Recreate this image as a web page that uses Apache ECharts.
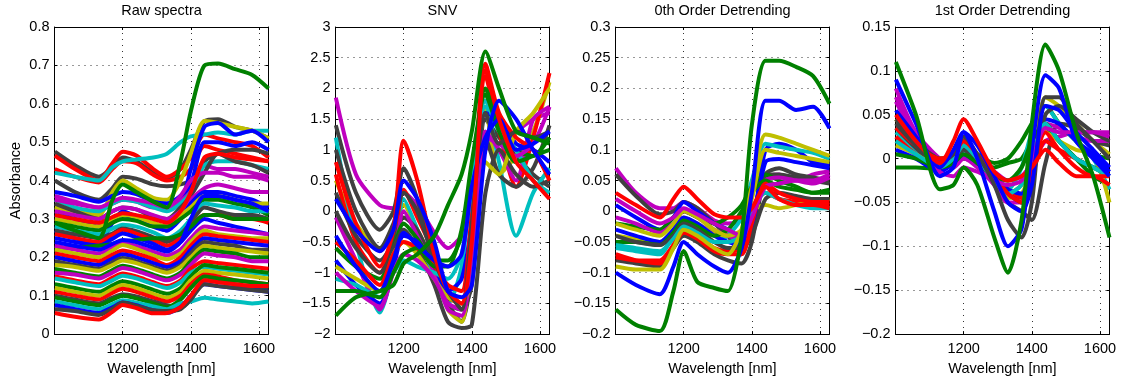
<!DOCTYPE html>
<html><head><meta charset="utf-8">
<script src="https://cdn.jsdelivr.net/npm/echarts@6/dist/echarts.min.js"></script>
<style>html,body{margin:0;padding:0;background:#fff}#c{width:1132px;height:381px}</style>
</head><body><div id="c"></div>
<script>
// ---- data ----
const wavelengths = [1001, 1060, 1130, 1170, 1200, 1240, 1290, 1330, 1370, 1400, 1440, 1480, 1530, 1580, 1628];

const panelTitles = ['Raw spectra', 'SNV', '0th Order Detrending', '1st Order Detrending'];
const yLabel = 'Absorbance';
const xLabel = 'Wavelength [nm]';

const yMinMax = [[0, 0.8, 0.1], [-2, 3, 0.5], [-0.2, 0.3, 0.05], [-0.2, 0.15, 0.05]];

const rawColorKeys = ['k','r','r','c','k','y','b','m','b','c','k','m','b','y','g','c','k','r','b','g','m','y','r','b','k','y','g','m','r','c','g','y','r','k','g','c','b','k','r','m','r','b','g'];
const rawValues = [
  [0.475,0.44,0.41,0.435,0.46,0.45,0.42,0.405,0.43,0.48,0.555,0.56,0.54,0.53,0.51],
  [0.465,0.43,0.40,0.445,0.475,0.465,0.43,0.41,0.43,0.46,0.52,0.51,0.50,0.49,0.46],
  [0.43,0.41,0.395,0.43,0.45,0.445,0.415,0.40,0.41,0.43,0.49,0.48,0.47,0.46,0.45],
  [0.42,0.41,0.40,0.435,0.45,0.455,0.46,0.47,0.50,0.515,0.52,0.525,0.52,0.53,0.53],
  [0.40,0.37,0.35,0.38,0.41,0.405,0.39,0.385,0.39,0.40,0.45,0.47,0.48,0.48,0.47],
  [0.33,0.32,0.31,0.37,0.40,0.38,0.355,0.35,0.40,0.47,0.555,0.55,0.54,0.53,0.51],
  [0.27,0.25,0.235,0.29,0.32,0.305,0.28,0.27,0.33,0.43,0.54,0.55,0.52,0.53,0.50],
  [0.36,0.345,0.33,0.34,0.35,0.345,0.33,0.33,0.35,0.38,0.44,0.43,0.43,0.42,0.41],
  [0.37,0.36,0.345,0.36,0.37,0.365,0.345,0.34,0.36,0.39,0.50,0.50,0.49,0.50,0.48],
  [0.35,0.33,0.32,0.34,0.35,0.345,0.33,0.32,0.34,0.37,0.44,0.45,0.45,0.44,0.43],
  [0.34,0.32,0.30,0.32,0.33,0.325,0.305,0.30,0.33,0.36,0.42,0.47,0.45,0.44,0.42],
  [0.32,0.31,0.30,0.32,0.33,0.325,0.31,0.30,0.32,0.35,0.38,0.39,0.38,0.37,0.37],
  [0.31,0.30,0.28,0.30,0.31,0.30,0.285,0.27,0.30,0.34,0.37,0.37,0.36,0.35,0.33],
  [0.30,0.29,0.28,0.30,0.31,0.305,0.29,0.28,0.31,0.33,0.36,0.36,0.35,0.34,0.34],
  [0.29,0.28,0.27,0.29,0.30,0.295,0.28,0.28,0.30,0.32,0.35,0.35,0.34,0.33,0.31],
  [0.28,0.27,0.26,0.275,0.285,0.28,0.265,0.25,0.27,0.30,0.34,0.335,0.33,0.32,0.32],
  [0.27,0.26,0.25,0.262,0.275,0.268,0.252,0.24,0.26,0.29,0.33,0.32,0.31,0.31,0.30],
  [0.26,0.25,0.24,0.258,0.272,0.262,0.245,0.23,0.25,0.28,0.31,0.31,0.30,0.30,0.29],
  [0.25,0.24,0.23,0.248,0.262,0.252,0.235,0.22,0.24,0.27,0.30,0.29,0.28,0.27,0.26],
  [0.22,0.225,0.23,0.235,0.24,0.245,0.25,0.25,0.26,0.28,0.31,0.31,0.30,0.30,0.30],
  [0.23,0.22,0.21,0.226,0.238,0.23,0.215,0.205,0.22,0.25,0.28,0.275,0.27,0.265,0.26],
  [0.22,0.21,0.20,0.218,0.232,0.222,0.205,0.195,0.21,0.24,0.27,0.26,0.255,0.25,0.25],
  [0.21,0.20,0.19,0.207,0.218,0.21,0.195,0.18,0.20,0.23,0.26,0.255,0.25,0.245,0.24],
  [0.20,0.19,0.18,0.197,0.208,0.20,0.185,0.175,0.19,0.22,0.25,0.245,0.24,0.235,0.23],
  [0.19,0.18,0.17,0.187,0.198,0.19,0.175,0.165,0.18,0.21,0.24,0.235,0.23,0.22,0.22],
  [0.18,0.175,0.165,0.18,0.192,0.185,0.17,0.16,0.175,0.20,0.23,0.225,0.22,0.215,0.21],
  [0.17,0.16,0.15,0.167,0.178,0.17,0.155,0.145,0.16,0.19,0.22,0.215,0.21,0.20,0.20],
  [0.16,0.155,0.145,0.16,0.172,0.165,0.15,0.14,0.155,0.18,0.21,0.205,0.20,0.19,0.19],
  [0.15,0.14,0.13,0.147,0.158,0.15,0.135,0.125,0.14,0.17,0.19,0.185,0.18,0.175,0.17],
  [0.145,0.135,0.125,0.14,0.152,0.145,0.13,0.12,0.135,0.16,0.175,0.17,0.165,0.16,0.155],
  [0.13,0.12,0.11,0.127,0.138,0.13,0.115,0.105,0.12,0.15,0.18,0.175,0.17,0.165,0.16],
  [0.12,0.11,0.10,0.117,0.128,0.12,0.105,0.095,0.11,0.14,0.165,0.16,0.155,0.15,0.145],
  [0.11,0.10,0.09,0.107,0.118,0.11,0.095,0.085,0.10,0.13,0.155,0.15,0.14,0.135,0.13],
  [0.10,0.09,0.08,0.095,0.104,0.098,0.085,0.075,0.07,0.09,0.14,0.14,0.13,0.12,0.12],
  [0.095,0.085,0.075,0.09,0.10,0.093,0.08,0.07,0.09,0.12,0.15,0.145,0.14,0.135,0.13],
  [0.085,0.075,0.065,0.078,0.088,0.082,0.072,0.065,0.08,0.085,0.095,0.09,0.085,0.08,0.085],
  [0.075,0.065,0.055,0.07,0.082,0.075,0.062,0.055,0.07,0.10,0.13,0.125,0.12,0.115,0.11],
  [0.065,0.06,0.05,0.066,0.082,0.074,0.062,0.06,0.065,0.09,0.13,0.125,0.12,0.115,0.11],
  [0.055,0.045,0.038,0.058,0.076,0.068,0.054,0.055,0.07,0.10,0.14,0.135,0.13,0.125,0.125],
  [0.35,0.34,0.33,0.345,0.355,0.35,0.34,0.33,0.36,0.40,0.42,0.42,0.41,0.41,0.40],
  [0.31,0.30,0.29,0.305,0.315,0.31,0.30,0.29,0.32,0.37,0.46,0.47,0.46,0.455,0.45],
  [0.24,0.23,0.22,0.235,0.245,0.24,0.225,0.215,0.24,0.30,0.36,0.36,0.35,0.34,0.32],
  [0.29,0.27,0.25,0.35,0.39,0.37,0.345,0.33,0.45,0.58,0.70,0.705,0.69,0.675,0.64]
];

const snvColorKeys = ['m','k','y','c','r','k','m','g','b','k','y','r','c','m','g','k','b','r','b','g'];
const snvValues = [
  [1.85,0.6,0.1,0.05,0.3,0.1,-0.35,-0.6,-0.4,0.0,1.0,1.1,1.3,1.5,1.6],
  [1.4,0.3,-0.3,0.0,0.7,0.2,-0.9,-1.5,-1.8,-1.0,1.5,1.2,0.9,0.6,0.4],
  [0.5,-0.2,-0.6,-0.3,0.1,-0.3,-0.9,-1.6,-1.8,-0.5,1.7,0.6,0.9,1.3,2.1],
  [1.2,-0.5,-1.65,-0.9,0.2,-0.3,-1.1,-1.5,-0.9,0.6,1.7,0.8,-0.4,0.3,0.7],
  [0.6,-0.5,-1.0,-0.5,0.35,-0.1,-0.7,-1.4,-1.5,-0.3,2.2,1.3,0.4,1.2,2.25],
  [0.3,-0.4,-0.8,-0.5,-0.1,-0.3,-0.9,-1.5,-1.6,-1.2,1.2,0.6,0.4,0.7,1.4],
  [-0.1,-0.8,-1.6,-0.9,0.0,-0.4,-1.0,-1.6,-1.7,-0.8,1.3,1.0,0.5,1.5,1.7],
  [-0.6,-0.9,-1.1,-0.6,-0.2,-0.45,-0.8,-0.8,-0.4,0.5,2.0,1.4,1.0,0.9,1.2],
  [-0.8,-1.2,-1.5,-0.9,-0.4,-0.5,-0.9,-1.3,-1.1,-0.2,1.6,1.5,1.1,1.0,0.8],
  [0.0,-0.6,-1.0,-0.6,-0.3,-0.6,-1.2,-1.8,-1.9,-1.85,0.3,1.0,0.6,0.4,0.5],
  [-0.9,-1.1,-1.3,-0.7,-0.5,-0.7,-1.1,-1.4,-1.5,-1.1,0.8,0.6,1.3,1.6,2.0],
  [-0.5,-0.8,-1.2,-0.7,-0.5,-0.6,-0.9,-1.2,-1.3,0.0,2.4,1.6,1.2,1.0,0.5],
  [-1.1,-1.2,-1.4,-1.0,-0.8,-0.9,-1.0,-1.1,-0.7,0.4,1.8,1.3,1.0,0.5,0.3],
  [-1.0,-1.3,-1.55,-1.0,-0.7,-0.8,-1.1,-1.5,-1.6,-0.7,1.2,1.1,0.9,1.1,1.7],
  [-1.3,-1.3,-1.4,-1.0,-0.7,-0.6,-0.9,-0.9,-0.3,0.8,1.9,1.3,0.8,0.9,1.0],
  [1.0,0.0,-0.6,-0.2,0.3,0.0,-0.8,-1.3,-1.6,-0.2,1.6,1.1,1.3,1.2,1.3],
  [-0.4,-0.9,-1.3,-0.8,-0.35,-0.55,-0.8,-0.9,-0.7,0.4,1.2,1.5,1.0,1.1,1.3],
  [0.8,-0.2,-0.9,-0.3,1.15,0.5,-0.7,-1.3,-1.5,-0.5,2.3,1.5,0.8,0.5,0.2],
  [0.2,-0.3,-0.65,-0.3,0.5,0.2,-0.5,-1.3,-1.4,-1.2,1.0,1.8,1.5,1.0,0.6],
  [-1.7,-1.4,-1.3,-1.2,-0.85,-0.7,-0.4,0.1,0.6,1.3,2.6,2.0,1.3,1.2,1.1]
];

const det0ColorKeys = ['m','k','b','c','k','g','r','y','m','b','g','k','c','r','y','m','r','y','b','g'];
const det0Values = [
  [0.07,0.03,0.005,0.005,0.015,0.005,-0.015,-0.02,-0.015,0.0,0.055,0.06,0.05,0.06,0.065],
  [0.06,0.025,-0.005,0.0,0.015,0.005,-0.02,-0.04,-0.07,-0.02,0.06,0.06,0.055,0.05,0.045],
  [0.01,-0.01,-0.03,-0.01,0.015,0.0,-0.02,-0.03,-0.05,-0.03,0.10,0.11,0.10,0.08,0.075],
  [-0.06,-0.065,-0.07,-0.04,-0.02,-0.03,-0.05,-0.04,-0.01,0.05,0.11,0.105,0.10,0.095,0.085],
  [-0.08,-0.085,-0.09,-0.06,-0.04,-0.05,-0.07,-0.08,-0.085,-0.05,0.06,0.07,0.06,0.055,0.05],
  [-0.02,-0.025,-0.03,-0.01,0.0,-0.01,-0.02,-0.01,0.01,0.04,0.06,0.05,0.04,0.03,0.03],
  [-0.07,-0.08,-0.085,-0.055,-0.03,-0.04,-0.06,-0.065,-0.06,0.0,0.03,0.02,0.015,0.01,0.01],
  [-0.04,-0.045,-0.05,-0.03,-0.01,-0.02,-0.035,-0.04,-0.035,0.0,0.01,0.005,0.01,0.015,0.02],
  [-0.01,-0.02,-0.035,-0.02,0.0,-0.01,-0.03,-0.04,-0.045,-0.01,0.05,0.055,0.05,0.045,0.055],
  [-0.03,-0.04,-0.05,-0.03,-0.01,-0.02,-0.04,-0.05,-0.055,-0.03,0.08,0.085,0.08,0.075,0.07],
  [-0.05,-0.05,-0.055,-0.035,-0.015,-0.025,-0.04,-0.03,0.0,0.03,0.05,0.04,0.035,0.03,0.035],
  [-0.04,-0.05,-0.055,-0.04,-0.02,-0.03,-0.05,-0.06,-0.06,-0.04,0.02,0.03,0.025,0.02,0.02],
  [-0.055,-0.06,-0.065,-0.045,-0.025,-0.035,-0.05,-0.05,-0.04,0.0,0.03,0.02,0.01,0.005,0.005],
  [-0.075,-0.08,-0.08,-0.055,-0.035,-0.045,-0.065,-0.07,-0.07,-0.02,0.045,0.03,0.02,0.015,0.015],
  [-0.02,-0.03,-0.04,-0.02,0.0,-0.01,-0.03,-0.04,-0.03,0.02,0.10,0.095,0.09,0.085,0.08],
  [0.02,0.0,-0.02,-0.01,0.005,-0.005,-0.02,-0.03,-0.04,-0.01,0.04,0.045,0.05,0.05,0.06],
  [0.03,0.01,-0.01,0.02,0.04,0.02,-0.005,-0.01,-0.01,0.005,0.04,0.02,0.01,0.01,0.005],
  [-0.09,-0.095,-0.095,-0.06,-0.03,-0.04,-0.06,-0.07,-0.03,0.04,0.125,0.12,0.11,0.10,0.09],
  [-0.10,-0.12,-0.135,-0.09,-0.05,-0.07,-0.09,-0.10,-0.06,0.03,0.18,0.18,0.165,0.17,0.135],
  [-0.16,-0.185,-0.195,-0.13,-0.065,-0.115,-0.125,-0.13,-0.04,0.14,0.245,0.245,0.235,0.22,0.175]
];

const det1ColorKeys = ['m','g','g','c','y','k','r','m','y','b','k','g','c','r','m','k','b','r','b','g'];
const det1Values = [
  [0.08,0.03,0.0,-0.005,0.0,-0.005,-0.015,-0.025,-0.02,-0.005,0.02,0.025,0.03,0.03,0.03],
  [0.02,0.005,-0.01,0.0,0.02,0.005,-0.005,0.0,0.02,0.04,0.06,0.04,0.02,0.005,0.0],
  [-0.01,-0.01,-0.012,-0.005,0.0,-0.005,-0.01,-0.005,0.0,0.02,0.035,0.02,0.0,-0.02,-0.03],
  [0.03,0.01,-0.01,-0.005,0.01,0.0,-0.02,-0.035,-0.01,0.03,0.06,0.04,0.02,0.0,-0.035],
  [0.045,0.02,0.0,0.005,0.015,0.0,-0.03,-0.045,-0.04,-0.01,0.07,0.06,0.04,0.02,0.005],
  [0.035,0.012,-0.01,0.0,0.02,0.0,-0.03,-0.05,-0.06,-0.07,-0.005,0.04,0.035,0.02,0.015],
  [0.025,0.005,-0.01,0.0,0.015,0.0,-0.02,-0.035,-0.045,-0.02,0.02,0.01,0.0,-0.01,-0.015],
  [0.065,0.025,-0.005,-0.01,0.0,-0.01,-0.03,-0.05,-0.05,-0.02,0.04,0.035,0.025,0.02,0.02],
  [0.015,0.005,-0.01,0.0,0.01,0.0,-0.02,-0.04,-0.03,0.0,0.03,0.02,0.01,0.005,-0.05],
  [0.01,0.0,-0.015,-0.005,0.005,-0.005,-0.02,-0.035,-0.04,-0.01,0.045,0.04,0.02,0.005,-0.015],
  [0.045,0.02,0.0,0.0,0.01,-0.005,-0.02,-0.04,-0.05,-0.02,0.05,0.06,0.045,0.03,0.02],
  [0.005,0.0,-0.01,-0.005,0.005,-0.005,-0.02,-0.025,-0.01,0.02,0.04,0.02,0.0,-0.01,-0.02],
  [0.02,0.005,-0.01,0.0,0.015,0.0,-0.025,-0.04,-0.03,0.0,0.04,0.02,0.0,-0.01,-0.02],
  [0.035,0.015,0.0,0.005,0.02,0.005,-0.02,-0.04,-0.05,-0.015,0.03,0.01,-0.01,-0.02,-0.02],
  [0.07,0.025,-0.015,-0.02,-0.01,-0.015,-0.025,-0.03,-0.025,0.0,0.035,0.03,0.03,0.03,0.025],
  [0.04,0.015,-0.005,0.005,0.025,0.005,-0.03,-0.07,-0.09,-0.05,0.07,0.07,0.04,0.02,0.0],
  [0.055,0.025,-0.01,0.01,0.03,0.015,-0.02,-0.05,-0.06,-0.03,0.06,0.055,0.03,0.01,-0.01],
  [0.05,0.02,-0.005,0.02,0.045,0.02,-0.015,-0.025,-0.02,-0.01,0.01,-0.005,-0.02,-0.02,-0.03],
  [0.09,0.04,-0.02,-0.01,0.03,0.0,-0.06,-0.10,-0.08,0.01,0.095,0.08,0.02,0.0,-0.02],
  [0.11,0.05,-0.035,-0.03,-0.01,-0.03,-0.09,-0.13,-0.07,0.04,0.13,0.10,0.03,-0.02,-0.09]
];

// ---- styling / build ----
const palette = {r:'#ff0000', g:'#008000', b:'#0000ff', c:'#00bfbf', m:'#bf00bf', y:'#bfbf00', k:'#404040'};
const FONT = 'Liberation Sans, Arial, Helvetica, sans-serif';
const FS = 14.5;
const lefts = [54.5, 335.5, 615.5, 895.5];
const W = 214, TOP = 27, H = 308;

function fmtY(v){
  const a = parseFloat(Math.abs(v).toFixed(4));
  return (v < -1e-9 ? '\u2212' : '') + a;
}

const allValues = [rawValues, snvValues, det0Values, det1Values];
const allColors = [rawColorKeys, snvColorKeys, det0ColorKeys, det1ColorKeys];

const grid = [], xAxis = [], yAxis = [], series = [], title = [];
for (let p = 0; p < 4; p++) {
  grid.push({left: lefts[p], top: TOP, width: W, height: H, containLabel: false});
  title.push({text: panelTitles[p], left: lefts[p] + W/2, top: 3, padding: 0, textAlign: 'center',
    textStyle: {fontFamily: FONT, fontSize: FS, fontWeight: 'normal', color: '#000'}});
  const common = {min: 1000, max: 1628, interval: 200, gridIndex: p, type: 'value'};
  xAxis.push(Object.assign({}, common, {
    position: 'bottom',
    name: xLabel, nameLocation: 'middle', nameGap: 24,
    nameTextStyle: {fontFamily: FONT, fontSize: FS, color: '#000'},
    axisLine: {show: true, onZero: false, lineStyle: {color: '#000', width: 1}},
    axisTick: {show: true, inside: true, length: 3, lineStyle: {color: '#000'}},
    axisLabel: {margin: 7, fontFamily: FONT, fontSize: FS, color: '#000', showMaxLabel: false, showMinLabel: false,
      formatter: v => (v % 200 === 0 && v > 1000) ? String(v) : ''},
    splitLine: {show: true, lineStyle: {color: '#333', width: 1, type: [1, 5]}}
  }));
  xAxis.push(Object.assign({}, common, {
    position: 'top',
    axisLine: {show: true, onZero: false, lineStyle: {color: '#000', width: 1}},
    axisTick: {show: true, inside: true, length: 3, lineStyle: {color: '#000'}},
    axisLabel: {show: false}, splitLine: {show: false}
  }));
  const [ymin, ymax, yint] = yMinMax[p];
  const ycommon = {type: 'value', gridIndex: p, min: ymin, max: ymax, interval: yint};
  yAxis.push(Object.assign({}, ycommon, {
    position: 'left',
    axisLine: {show: true, onZero: false, lineStyle: {color: '#000', width: 1}},
    axisTick: {show: true, inside: true, length: 3, lineStyle: {color: '#000'}},
    axisLabel: {margin: 5, fontFamily: FONT, fontSize: FS, color: '#000', formatter: fmtY},
    splitLine: {show: true, lineStyle: {color: '#333', width: 1, type: [1, 5]}},
    name: p === 0 ? yLabel : '', nameLocation: 'middle', nameGap: 31, nameRotate: 90,
    nameTextStyle: {fontFamily: FONT, fontSize: FS, color: '#000'}
  }));
  yAxis.push(Object.assign({}, ycommon, {
    position: 'right',
    axisLine: {show: true, onZero: false, lineStyle: {color: '#000', width: 1}},
    axisTick: {show: true, inside: true, length: 3, lineStyle: {color: '#000'}},
    axisLabel: {show: false}, splitLine: {show: false}
  }));
  const vals = allValues[p], cols = allColors[p];
  for (let s = 0; s < vals.length; s++) {
    series.push({
      type: 'line', xAxisIndex: 2*p, yAxisIndex: 2*p,
      data: wavelengths.map((w, i) => [w, vals[s][i]]),
      showSymbol: false, smooth: 0.25, silent: true,
      clip: true,
      lineStyle: {color: palette[cols[s]], width: 4},
      z: 2
    });
  }
}

const chart = echarts.init(document.getElementById('c'), null, {renderer: 'canvas'});
chart.setOption({animation: false, backgroundColor: '#fff', title, grid, xAxis, yAxis, series});
</script></body></html>
